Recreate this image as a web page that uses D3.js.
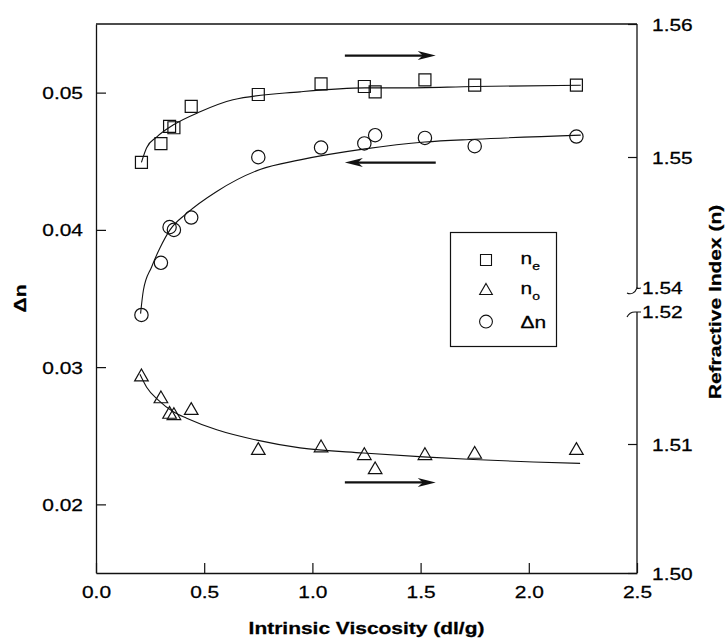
<!DOCTYPE html>
<html>
<head>
<meta charset="utf-8">
<script src="https://d3js.org/d3.v7.min.js"></script>
<style>
  body { margin: 0; background: #fff; }
  svg text { font-family: "Liberation Sans", Arial, sans-serif; fill: #000; stroke: #000; stroke-width: 0.25px; }
</style>
</head>
<body>
<div id="chart"></div>
<script>
// measured samples: intrinsic viscosity (dl/g)
const viscosity = [0.21, 0.30, 0.34, 0.36, 0.44, 0.75, 1.04, 1.24, 1.29, 1.52, 1.75, 2.22];
const nE = [1.5496, 1.5510, 1.5523, 1.5522, 1.5538, 1.5547, 1.5555, 1.5553, 1.5549, 1.5558, 1.5554, 1.5554];
const nO = [1.5152, 1.5135, 1.5123, 1.5122, 1.5126, 1.5095, 1.5097, 1.5091, 1.5080, 1.5091, 1.5092, 1.5095];
const deltaN = [0.0338, 0.0376, 0.0402, 0.0400, 0.0409, 0.0453, 0.0460, 0.0463, 0.0469, 0.0467, 0.0461, 0.0468];

// fitted curves
const nECurveX = [0.21, 0.234, 0.28, 0.356, 0.481, 0.633, 0.943, 1.243, 1.405, 1.751, 2.24];
const nECurveY = [1.5496, 1.5507, 1.5515, 1.5524, 1.5534, 1.5543, 1.5549, 1.5552, 1.5552, 1.5553, 1.5554];
const nOCurveX = [0.203, 0.234, 0.288, 0.357, 0.419, 0.558, 0.743, 0.943, 1.235, 1.512, 1.744, 2.021, 2.237];
const nOCurveY = [1.5154, 1.5144, 1.5134, 1.5125, 1.5120, 1.5111, 1.5103, 1.5097, 1.5093, 1.5090, 1.5088, 1.5086, 1.5085];
const dnCurveX = [0.206, 0.219, 0.257, 0.296, 0.342, 0.419, 0.558, 0.758, 0.943, 1.243, 1.52, 1.751, 2.24];
const dnCurveY = [0.0339, 0.0356, 0.0373, 0.0387, 0.0400, 0.0412, 0.0428, 0.0444, 0.0451, 0.0459, 0.0464, 0.0466, 0.0469];

// arrows telling which axis a curve belongs to (left-axis units)
const arrowFrom = [1.15, 1.57, 1.15];
const arrowTo = [1.57, 1.15, 1.57];
const arrowLevel = [0.0527, 0.0449, 0.0216];

// ticks
const xTicks = [0, 0.5, 1.0, 1.5, 2.0, 2.5];
const leftTicks = [0.02, 0.03, 0.04, 0.05];
const rightTicks = [1.50, 1.51, 1.55, 1.56];
const rightBreakLabels = [1.52, 1.54];

const legendItems = [
  { symbol: d3.symbolSquare, size: 121, label: 'n', sub: 'e' },
  { symbol: d3.symbolTriangle, size: 70, label: 'n', sub: 'o' },
  { symbol: d3.symbolCircle, size: 130, label: 'Δn', sub: '' }
];

const width = 727, height = 642;
const margin = { top: 24, right: 90, bottom: 69, left: 96 };
const plotRight = width - margin.right;
const plotBottom = height - margin.bottom;
const fontSize = 16.5;
const stretch = 1.27; // lettering in the figure is wide

const svg = d3.select('#chart').append('svg')
  .attr('width', width)
  .attr('height', height);

const x = d3.scaleLinear().domain([0, 2.5]).range([margin.left, plotRight]);
const yLeft = d3.scaleLinear().domain([0.015, 0.055]).range([plotBottom, margin.top]);
// broken right axis: 1.50-1.52 below, 1.54-1.56 above
const yRight = d3.scaleLinear()
  .domain([1.50, 1.52, 1.54, 1.56])
  .range([plotBottom, plotBottom - 258, margin.top + 266, margin.top]);

function styleAxis(g) {
  g.attr('font-size', fontSize)
    .attr('font-family', '"Liberation Sans", Arial, sans-serif');
  g.selectAll('line').attr('stroke', '#111').attr('stroke-width', 1.2);
  g.selectAll('.domain').attr('stroke', '#111').attr('stroke-width', 1.3);
}

function stretchLabels(g, dx, dy) {
  g.selectAll('.tick text')
    .attr('x', null).attr('y', null).attr('dy', null)
    .attr('transform', `translate(${dx},${dy}) scale(${stretch},1)`);
}

// x axis
svg.append('g')
  .attr('transform', `translate(0,${plotBottom})`)
  .call(d3.axisBottom(x).tickValues(xTicks).tickSizeInner(-10).tickSizeOuter(0)
    .tickFormat(d3.format('.1f')))
  .call(styleAxis)
  .call(g => stretchLabels(g, 0, 25));

// left axis
svg.append('g')
  .attr('transform', `translate(${margin.left},0)`)
  .call(d3.axisLeft(yLeft).tickValues(leftTicks).tickSizeInner(-10).tickSizeOuter(0)
    .tickFormat(d3.format('.2f')))
  .call(styleAxis)
  .call(g => stretchLabels(g, -13, 6));

// right axis, domain drawn by hand because of the break
svg.append('g')
  .attr('transform', `translate(${plotRight},0)`)
  .call(d3.axisRight(yRight).tickValues(rightTicks).tickSizeInner(-9).tickSizeOuter(0)
    .tickFormat(d3.format('.2f')))
  .call(styleAxis)
  .call(g => g.select('.domain').remove())
  .call(g => stretchLabels(g, 15, 6));

const axisLine = svg.append('g').attr('stroke', '#111').attr('stroke-width', 1.3).attr('fill', 'none');
axisLine.append('line')
  .attr('x1', margin.left).attr('x2', plotRight)
  .attr('y1', margin.top).attr('y2', margin.top);
axisLine.append('line')
  .attr('x1', plotRight).attr('x2', plotRight)
  .attr('y1', yRight(1.56)).attr('y2', yRight(1.54) - 2);
axisLine.append('line')
  .attr('x1', plotRight).attr('x2', plotRight)
  .attr('y1', yRight(1.52) - 3).attr('y2', yRight(1.50));

// break squiggles, one where each part of the axis ends
axisLine.selectAll('path.break')
  .data(rightBreakLabels)
  .join('path')
  .attr('class', 'break')
  .attr('stroke-width', 1.1)
  .attr('transform', d => `translate(${plotRight},${yRight(d)})`)
  .attr('d', d => d === 1.54
    ? 'M-10,3 C-6,5 -2,3 0,-2 C1,-1 3,-2 4,-2'
    : 'M-10,2 C-8,-2 -5,-3 -2,-3 C0,-3 2,-3 4,-3');

svg.append('g')
  .attr('font-size', fontSize)
  .selectAll('text')
  .data(rightBreakLabels)
  .join('text')
  .attr('transform', d => `translate(${plotRight + 5},${yRight(d) + (d === 1.54 ? 4 : 3)}) scale(${stretch},1)`)
  .text(d3.format('.2f'));

// fitted curves
const curves = [
  { xs: nECurveX, ys: nECurveY, y: yRight },
  { xs: nOCurveX, ys: nOCurveY, y: yRight },
  { xs: dnCurveX, ys: dnCurveY, y: yLeft }
];
const line = d3.line().curve(d3.curveMonotoneX);
svg.append('g')
  .attr('fill', 'none')
  .attr('stroke', '#111')
  .attr('stroke-width', 1.1)
  .selectAll('path')
  .data(curves)
  .join('path')
  .attr('d', c => line(c.xs.map((v, i) => [x(v), c.y(c.ys[i])])));

// markers
const series = [
  { values: nE, y: yRight, symbol: d3.symbolSquare, size: 144 },
  { values: nO, y: yRight, symbol: d3.symbolTriangle, size: 80 },
  { values: deltaN, y: yLeft, symbol: d3.symbolCircle, size: 140 }
];
series.forEach(s => {
  svg.append('g')
    .attr('fill', 'none')
    .attr('stroke', '#111')
    .attr('stroke-width', 1.2)
    .selectAll('path')
    .data(s.values)
    .join('path')
    .attr('transform', (d, i) => `translate(${x(viscosity[i])},${s.y(d)})`)
    .attr('d', d3.symbol().type(s.symbol).size(s.size)());
});

// arrows
const arrows = svg.append('g').attr('stroke', '#111').attr('fill', '#111');
arrowLevel.forEach((lv, i) => {
  const x0 = x(arrowFrom[i]), x1 = x(arrowTo[i]), yy = yLeft(lv);
  const dir = x1 > x0 ? 1 : -1;
  arrows.append('line')
    .attr('x1', x0).attr('x2', x1 - dir * 12)
    .attr('y1', yy).attr('y2', yy)
    .attr('stroke-width', 2.2);
  arrows.append('path')
    .attr('stroke', 'none')
    .attr('transform', `translate(${x1},${yy}) scale(${dir},1)`)
    .attr('d', 'M0,0 L-18,-4.5 L-13,0 L-18,4.5 Z');
});

// legend
const legend = svg.append('g').attr('transform', 'translate(450.5,232.5)');
legend.append('rect')
  .attr('width', 106).attr('height', 114)
  .attr('fill', '#fff').attr('stroke', '#111').attr('stroke-width', 1.2);
const rows = legend.selectAll('g.row')
  .data(legendItems)
  .join('g')
  .attr('class', 'row')
  .attr('transform', (d, i) => `translate(0,${27.5 + i * 30.8})`);
rows.append('path')
  .attr('transform', 'translate(35.5,0)')
  .attr('fill', 'none').attr('stroke', '#111').attr('stroke-width', 1.1)
  .attr('d', d => d3.symbol().type(d.symbol).size(d.size)());
const labels = rows.append('text')
  .attr('font-size', fontSize)
  .attr('transform', d => `translate(70,${d.sub ? 3.5 : 6}) scale(${stretch},1)`);
labels.append('tspan').text(d => d.label);
labels.append('tspan')
  .attr('font-size', 11)
  .attr('dy', 6)
  .text(d => d.sub);

// axis titles
svg.append('text')
  .attr('font-size', fontSize).attr('font-weight', 'bold')
  .attr('text-anchor', 'middle')
  .attr('transform', `translate(${(margin.left + plotRight) / 2},634) scale(${stretch},1)`)
  .text('Intrinsic Viscosity (dl/g)');

svg.append('text')
  .attr('font-size', fontSize).attr('font-weight', 'bold')
  .attr('text-anchor', 'middle')
  .attr('transform', `translate(25.5,298.5) rotate(-90) scale(${stretch},1)`)
  .text('Δn');

svg.append('text')
  .attr('font-size', fontSize).attr('font-weight', 'bold')
  .attr('text-anchor', 'middle')
  .attr('transform', `translate(721,302) rotate(-90) scale(${stretch},1)`)
  .text('Refractive Index (n)');
</script>
</body>
</html>
